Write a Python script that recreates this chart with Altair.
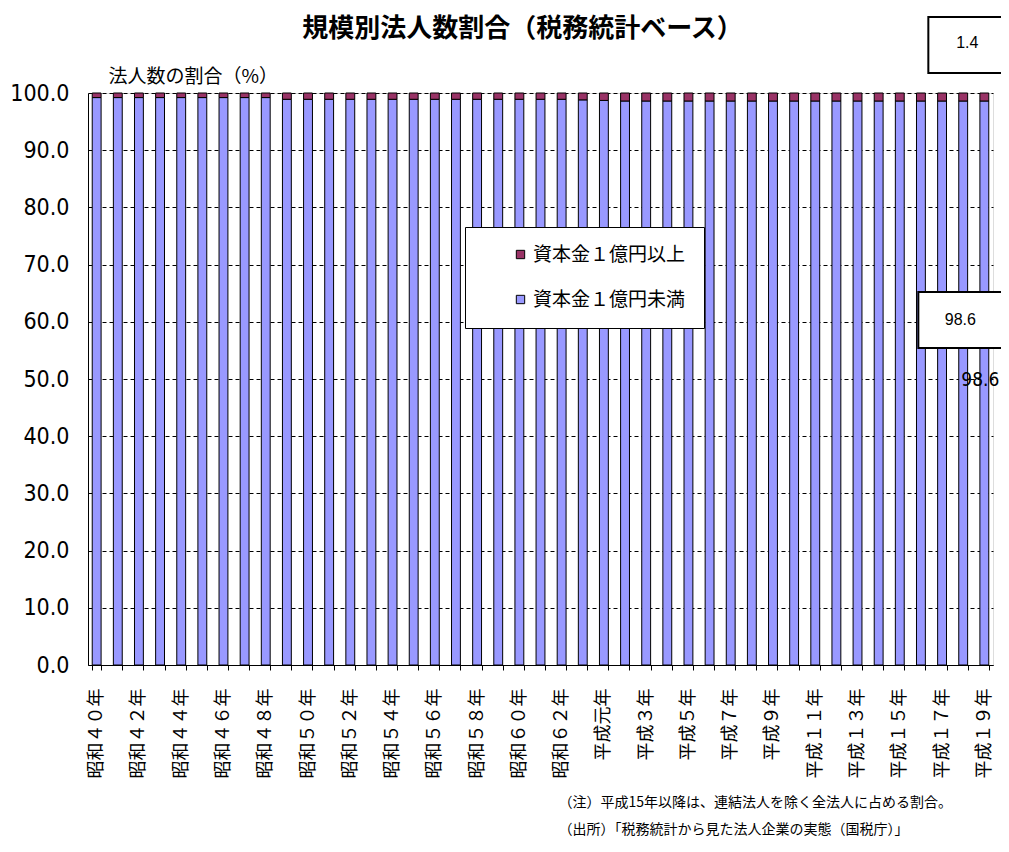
import altair as alt
import pandas as pd

years = (
    ["昭和" + s + "年" for s in ["４０", "４１", "４２", "４３", "４４", "４５", "４６", "４７", "４８", "４９",
                               "５０", "５１", "５２", "５３", "５４", "５５", "５６", "５７", "５８", "５９",
                               "６０", "６１", "６２", "６３"]]
    + ["平成元年"]
    + ["平成" + s + "年" for s in ["２", "３", "４", "５", "６", "７", "８", "９", "１０", "１１",
                               "１２", "１３", "１４", "１５", "１６", "１７", "１８", "１９"]]
)
shown = years[::2]

large = [0.8, 0.8, 0.8, 0.8, 0.8, 0.8, 0.8, 0.8, 0.8, 1.1,
         1.1, 1.1, 1.1, 1.1, 1.1, 1.1, 1.1, 1.1, 1.1, 1.1,
         1.1, 1.1, 1.1, 1.2, 1.3, 1.4, 1.4, 1.4, 1.4, 1.4,
         1.4, 1.4, 1.4, 1.4, 1.4, 1.4, 1.4, 1.4, 1.4, 1.4,
         1.4, 1.4, 1.4]
small = [round(100 - v, 1) for v in large]

cat_large = "資本金１億円以上"
cat_small = "資本金１億円未満"

rows = []
for y, s, l in zip(years, small, large):
    rows.append({"year": y, "cat": cat_small, "share": s, "ord": 0})
    rows.append({"year": y, "cat": cat_large, "share": l, "ord": 1})
df = pd.DataFrame(rows)

last_year = years[-1]
annot = pd.DataFrame({
    "year": [last_year],
    "small": [small[-1]],
    "large": [large[-1]],
    "mid": [small[-1] / 2],
    "small_txt": ["98.6"],
    "large_txt": ["1.4"],
})

JP = "Noto Sans CJK JP"
NARROW = "DejaVu Sans Condensed, Liberation Sans Narrow, DejaVu Sans"

label_expr = "indexof(" + str(shown).replace("'", '"') + ", datum.value) >= 0 ? datum.value : ''"

x_enc = alt.X(
    "year:N", sort=years,
    scale=alt.Scale(paddingInner=0.58, paddingOuter=0.2),
    axis=alt.Axis(
        labelExpr=label_expr, labelAngle=-90, labelAlign="right", labelBaseline="middle",
        labelFont=JP, labelFontSize=18, labelColor="black", labelPadding=18,
        labelOverlap=False, tickBand="extent", tickSize=5, tickColor="black",
        domainColor="black", grid=False,
        title=["（注）平成15年以降は、連結法人を除く全法人に占める割合。",
               "（出所）「税務統計から見た法人企業の実態（国税庁）」"],
        titleFont=JP, titleFontSize=14, titleFontWeight="normal", titleColor="black",
        titleX=470, titleY=130, titleAlign="left", titleBaseline="top", titleAngle=0,
        titleLineHeight=27,
    ),
)

bars = alt.Chart(df).mark_bar(stroke="black", strokeWidth=1).encode(
    x=x_enc,
    y=alt.Y(
        "share:Q", stack="zero",
        scale=alt.Scale(domain=[0, 100], nice=False),
        axis=alt.Axis(
            values=list(range(0, 101, 10)), format=".1f",
            labelFont=NARROW, labelFontSize=23, labelColor="black", labelPadding=19,
            ticks=False, domainColor="black",
            grid=True, gridColor="black", gridDash=[4, 3], gridWidth=1,
            title="法人数の割合（%）", titleFont=JP, titleFontSize=19,
            titleFontWeight="normal", titleColor="black", titleAngle=0,
            titleX=20, titleY=-7, titleAlign="left", titleBaseline="bottom",
        ),
    ),
    color=alt.Color(
        "cat:N",
        scale=alt.Scale(domain=[cat_large, cat_small], range=["#993366", "#9999FF"]),
        legend=alt.Legend(
            title=None, orient="none", legendX=377, legendY=134, direction="vertical",
            fillColor="white", strokeColor="black", padding=18, symbolOffset=28,
            symbolType="square", symbolSize=70, symbolStrokeColor="black",
            symbolStrokeWidth=1, labelFont=JP, labelFontSize=19, labelColor="black",
            rowPadding=25, labelLimit=300, labelOffset=3,
            labelExpr="datum.label + '\u3000\u2002'",
        ),
    ),
    order=alt.Order("ord:Q"),
)

mid_text = alt.Chart(annot).mark_text(
    font=NARROW, fontSize=19, color="black", dx=-4, dy=-3
).encode(x=alt.X("year:N", sort=years), y="mid:Q", text="small_txt:N")

box_small = alt.Chart(annot).mark_point(
    shape="M-1,-0.583L1,-0.583L1,0.583L-1,0.583Z", size=9216, filled=True,
    fill="white", stroke="black", strokeWidth=2, opacity=1, xOffset=-18, yOffset=-63,
).encode(x=alt.X("year:N", sort=years), y="mid:Q")

box_small_text = alt.Chart(annot).mark_text(
    font="Liberation Sans, Arial", fontSize=16, color="black", dx=-24, dy=-63
).encode(x=alt.X("year:N", sort=years), y="mid:Q", text="small_txt:N")

box_large = alt.Chart(annot).mark_point(
    shape="M-1,-0.667L1,-0.667L1,0.667L-1,0.667Z", size=7056, filled=True,
    fill="white", stroke="black", strokeWidth=2, opacity=1, xOffset=-14, yOffset=-48,
).encode(x=alt.X("year:N", sort=years), y=alt.datum(100))

box_large_text = alt.Chart(annot).mark_text(
    font="Liberation Sans, Arial", fontSize=16, color="black", dx=-17, dy=-50
).encode(x=alt.X("year:N", sort=years), y=alt.datum(100), text="large_txt:N")

chart = alt.layer(
    bars, mid_text, box_small, box_small_text, box_large, box_large_text
).properties(
    width=905, height=572,
    title=alt.Title("規模別法人数割合（税務統計ベース）", font=JP, fontSize=26,
                    fontWeight="bold", color="black", anchor="middle", dx=-18, dy=47,
                    offset=18),
    autosize=alt.AutoSizeParams(type="none"),
    padding={"left": 80, "top": 85, "right": 8, "bottom": 178},
).configure_view(
    stroke="black", strokeWidth=1.5,
).configure(background="white")

chart.save("out.html", embed_options={"renderer": "svg", "actions": False})
